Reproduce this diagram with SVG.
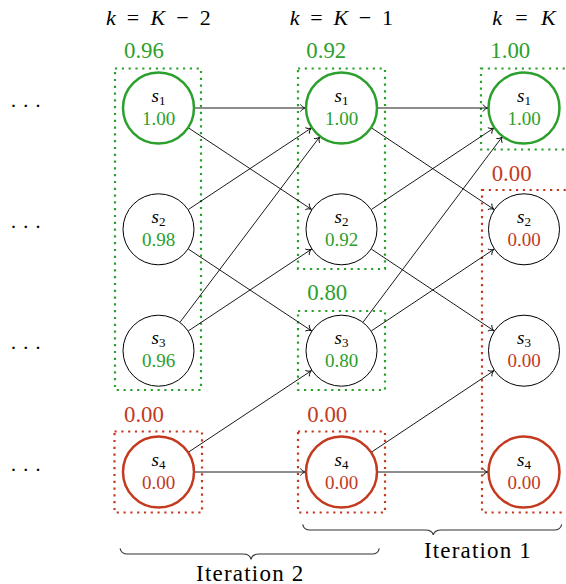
<svg xmlns="http://www.w3.org/2000/svg" width="566" height="584" viewBox="0 0 566 584">
<style>
text{font-family:'Liberation Serif','DejaVu Serif','Times New Roman','Nimbus Roman','Nimbus Roman No9 L','FreeSerif','Noto Serif','Tinos',Times,serif;fill:#000}
.hdr{font-size:22px}
.it{font-style:italic}
.lbl{font-size:19px}
.val{font-size:19px}
.big{font-size:22.8px}
.g{fill:#2ca02c}
.r{fill:#c33a1f}
.cg{fill:#fff;stroke:#2ca02c;stroke-width:2.5}
.cr{fill:#fff;stroke:#c33a1f;stroke-width:2.5}
.cb{fill:#fff;stroke:#000;stroke-width:1}
.bg{fill:none;stroke:#2ca02c;stroke-width:2.2;stroke-dasharray:2.2 4.6}
.br{fill:none;stroke:#c33a1f;stroke-width:2.2;stroke-dasharray:2.2 4.6}
.e{stroke:#000;stroke-width:0.9;fill:none;marker-end:url(#arr)}
.brace{fill:none;stroke:#333;stroke-width:1.1}
.dots{font-size:21px}
.iter{font-size:23px}
</style>
<defs>
<marker id="arr" markerUnits="userSpaceOnUse" viewBox="-6 -5 7 10" refX="0" refY="0" markerWidth="7" markerHeight="10" orient="auto" overflow="visible">
<path d="M -5,-3.6 C -4,-1.5 -1.5,-0.3 0,0 C -1.5,0.3 -4,1.5 -5,3.6" fill="none" stroke="#000" stroke-width="0.9"/>
</marker>
</defs>

<g id="headers">
<text class="hdr" x="106" y="25" textLength="104.7"><tspan class="it">k</tspan> = <tspan class="it">K</tspan> − 2</text>
<text class="hdr" x="289.7" y="25" textLength="103.3"><tspan class="it">k</tspan> = <tspan class="it">K</tspan> − 1</text>
<text class="hdr" x="492.3" y="25" textLength="63.4"><tspan class="it">k</tspan> = <tspan class="it">K</tspan></text>
</g>

<g id="ellipsis">
<text class="dots" x="10.1" y="112.7">· · ·</text>
<text class="dots" x="10.1" y="234">· · ·</text>
<text class="dots" x="10.1" y="355.3">· · ·</text>
<text class="dots" x="10.1" y="477">· · ·</text>
</g>

<g id="boxes">
<rect class="bg" x="115" y="68.5" width="86" height="321.5"/>
<text class="big g" x="124" y="58">0.96</text>
<rect class="br" x="114.5" y="431.5" width="87.5" height="81"/>
<text class="big r" x="124" y="422">0.00</text>
<rect class="bg" x="298" y="68.5" width="87" height="200.5"/>
<text class="big g" x="306.3" y="58">0.92</text>
<rect class="bg" x="298" y="311" width="87" height="79"/>
<text class="big g" x="307.3" y="300">0.80</text>
<rect class="br" x="298" y="431.5" width="87" height="81"/>
<text class="big r" x="307.3" y="422">0.00</text>
<rect class="bg" x="481" y="68.5" width="120" height="81"/>
<text class="big g" x="490.3" y="58.3">1.00</text>
<rect class="br" x="482" y="190" width="120" height="322.5"/>
<text class="big r" x="491.7" y="180.7">0.00</text>
</g>

<g id="connectors">
<line class="e" x1="194.5" y1="108" x2="305.5" y2="108"/>
<line class="e" x1="188.5" y1="127.9" x2="311.5" y2="209.4"/>
<line class="e" x1="188.5" y1="209.4" x2="311.5" y2="127.9"/>
<line class="e" x1="188.5" y1="249.2" x2="311.5" y2="330.8"/>
<line class="e" x1="180.2" y1="322" x2="319.8" y2="136.7"/>
<line class="e" x1="188.5" y1="330.8" x2="311.5" y2="249.2"/>
<line class="e" x1="188.5" y1="452.1" x2="311.5" y2="370.6"/>
<line class="e" x1="194.5" y1="472" x2="305.5" y2="472"/>
<line class="e" x1="378" y1="108" x2="488" y2="108"/>
<line class="e" x1="371.5" y1="127.9" x2="494" y2="209.4"/>
<line class="e" x1="371.5" y1="209.4" x2="494" y2="127.9"/>
<line class="e" x1="371.5" y1="249.2" x2="494" y2="330.8"/>
<line class="e" x1="363.2" y1="322" x2="502.3" y2="136.7"/>
<line class="e" x1="371.5" y1="330.8" x2="494" y2="249.2"/>
<line class="e" x1="371.5" y1="452.1" x2="494" y2="370.6"/>
<line class="e" x1="378" y1="472" x2="488" y2="472"/>
</g>

<g id="n-k2-s1"><circle class="cg" cx="158.5" cy="108" r="35.5"/><text class="lbl" x="158.5" y="101.5" text-anchor="middle"><tspan class="it">s</tspan><tspan font-size="13" dy="3">1</tspan></text><text class="val g" x="158.5" y="124.5" text-anchor="middle">1.00</text></g>
<g id="n-k2-s2"><circle class="cb" cx="158.5" cy="229.3" r="35.5"/><text class="lbl" x="158.5" y="222.8" text-anchor="middle"><tspan class="it">s</tspan><tspan font-size="13" dy="3">2</tspan></text><text class="val g" x="158.5" y="245.8" text-anchor="middle">0.98</text></g>
<g id="n-k2-s3"><circle class="cb" cx="158.5" cy="350.7" r="35.5"/><text class="lbl" x="158.5" y="344.2" text-anchor="middle"><tspan class="it">s</tspan><tspan font-size="13" dy="3">3</tspan></text><text class="val g" x="158.5" y="367.2" text-anchor="middle">0.96</text></g>
<g id="n-k2-s4"><circle class="cr" cx="158.5" cy="472" r="35.5"/><text class="lbl" x="158.5" y="465.5" text-anchor="middle"><tspan class="it">s</tspan><tspan font-size="13" dy="3">4</tspan></text><text class="val r" x="158.5" y="488.5" text-anchor="middle">0.00</text></g>

<g id="n-k1-s1"><circle class="cg" cx="341.5" cy="108" r="35.5"/><text class="lbl" x="341.5" y="101.5" text-anchor="middle"><tspan class="it">s</tspan><tspan font-size="13" dy="3">1</tspan></text><text class="val g" x="341.5" y="124.5" text-anchor="middle">1.00</text></g>
<g id="n-k1-s2"><circle class="cb" cx="341.5" cy="229.3" r="35.5"/><text class="lbl" x="341.5" y="222.8" text-anchor="middle"><tspan class="it">s</tspan><tspan font-size="13" dy="3">2</tspan></text><text class="val g" x="341.5" y="245.8" text-anchor="middle">0.92</text></g>
<g id="n-k1-s3"><circle class="cb" cx="341.5" cy="350.7" r="35.5"/><text class="lbl" x="341.5" y="344.2" text-anchor="middle"><tspan class="it">s</tspan><tspan font-size="13" dy="3">3</tspan></text><text class="val g" x="341.5" y="367.2" text-anchor="middle">0.80</text></g>
<g id="n-k1-s4"><circle class="cr" cx="341.5" cy="472" r="35.5"/><text class="lbl" x="341.5" y="465.5" text-anchor="middle"><tspan class="it">s</tspan><tspan font-size="13" dy="3">4</tspan></text><text class="val r" x="341.5" y="488.5" text-anchor="middle">0.00</text></g>

<g id="n-k0-s1"><circle class="cg" cx="524" cy="108" r="35.5"/><text class="lbl" x="524" y="101.5" text-anchor="middle"><tspan class="it">s</tspan><tspan font-size="13" dy="3">1</tspan></text><text class="val g" x="524" y="124.5" text-anchor="middle">1.00</text></g>
<g id="n-k0-s2"><circle class="cb" cx="524" cy="229.3" r="35.5"/><text class="lbl" x="524" y="222.8" text-anchor="middle"><tspan class="it">s</tspan><tspan font-size="13" dy="3">2</tspan></text><text class="val r" x="524" y="245.8" text-anchor="middle">0.00</text></g>
<g id="n-k0-s3"><circle class="cb" cx="524" cy="350.7" r="35.5"/><text class="lbl" x="524" y="344.2" text-anchor="middle"><tspan class="it">s</tspan><tspan font-size="13" dy="3">3</tspan></text><text class="val r" x="524" y="367.2" text-anchor="middle">0.00</text></g>
<g id="n-k0-s4"><circle class="cr" cx="524" cy="472" r="35.5"/><text class="lbl" x="524" y="465.5" text-anchor="middle"><tspan class="it">s</tspan><tspan font-size="13" dy="3">4</tspan></text><text class="val r" x="524" y="488.5" text-anchor="middle">0.00</text></g>

<g id="iterations">
<path class="brace" d="M 302.7 524.3 C 303.5 528.5 306 530 310 530 L 425 530 C 430 530 432.5 531.5 433.3 535 C 434 531.5 436.5 530 441.5 530 L 554 530 C 558 530 560.8 528.5 561.7 524.3"/>
<text class="iter" x="424" y="558" textLength="106.7">Iteration 1</text>
<path class="brace" d="M 120 548.3 C 121 552.5 123.5 554 127.5 554 L 243 554 C 248 554 250.3 555.5 251 559.3 C 251.8 555.5 254 554 259 554 L 372 554 C 376 554 378.5 552.5 379.3 548.3"/>
<text class="iter" x="196" y="580.5" textLength="107.3">Iteration 2</text>
</g>
</svg>
